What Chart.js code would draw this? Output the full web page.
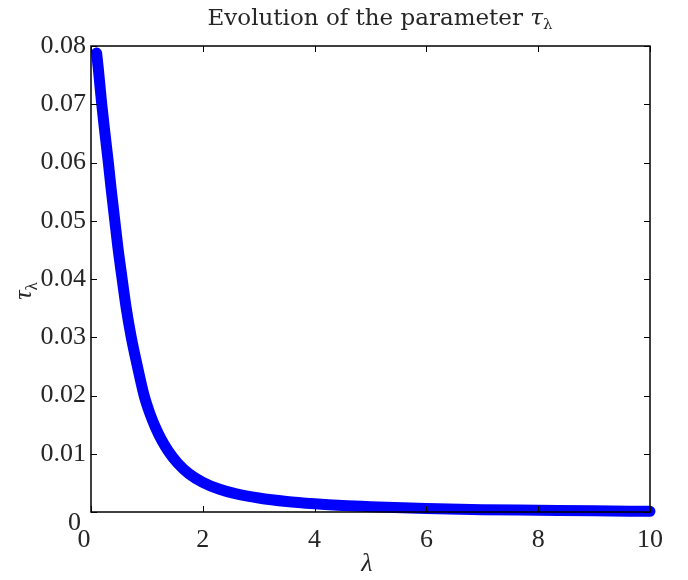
<!DOCTYPE html>
<html>
<head>
<meta charset="utf-8">
<script src="https://cdn.jsdelivr.net/npm/chart.js@4"></script>
<style>
  body { margin: 0; background: #ffffff; }
  #wrap { width: 688px; height: 580px; }
</style>
</head>
<body>
<div id="wrap"><canvas id="tauChart" width="688" height="580"></canvas></div>
<script>
// values
const lambdaValues = [0.10, 0.13, 0.16, 0.19, 0.25, 0.31, 0.36, 0.42, 0.48, 0.55, 0.63, 0.72, 0.83, 0.95, 1.05, 1.15, 1.25, 1.38, 1.55, 1.75, 2.0, 2.3, 2.6, 3.0, 3.5, 4.0, 4.5, 5.0, 6.0, 7.0, 8.0, 9.0, 10.0];
const tauValues = [0.0788, 0.0762, 0.0732, 0.0702, 0.0650, 0.0600, 0.0555, 0.0505, 0.0455, 0.0405, 0.0350, 0.0300, 0.0250, 0.0200, 0.0170, 0.0146, 0.0126, 0.0105, 0.0084, 0.0066, 0.0051, 0.0039, 0.0031, 0.0024, 0.0018, 0.0014, 0.0011, 0.0009, 0.0006, 0.0004, 0.0003, 0.0002, 0.00012];
const xTicks = [0, 2, 4, 6, 8, 10];
const yTicks = [0, 0.01, 0.02, 0.03, 0.04, 0.05, 0.06, 0.07, 0.08];

const serif = '"Liberation Serif", serif';
const titleFont = '"DejaVu Serif", serif';
const textColor = '#262626';

const points = lambdaValues.map((x, i) => ({ x: x, y: tauValues[i] }));

// box + inward ticks on all four sides, MATLAB style
const boxPlugin = {
  id: 'boxPlugin',
  afterDatasetsDraw(chart) {
    const ctx = chart.ctx;
    const a = chart.chartArea;
    const xs = chart.scales.x;
    const ys = chart.scales.y;
    const len = 6;
    ctx.save();
    ctx.strokeStyle = '#000000';
    ctx.lineWidth = 1;
    ctx.beginPath();
    xTicks.forEach(v => {
      const px = Math.round(xs.getPixelForValue(v)) + 0.5;
      ctx.moveTo(px, a.bottom); ctx.lineTo(px, a.bottom - len);
      ctx.moveTo(px, a.top); ctx.lineTo(px, a.top + len);
    });
    yTicks.forEach(v => {
      const py = Math.round(ys.getPixelForValue(v)) + 0.5;
      ctx.moveTo(a.left, py); ctx.lineTo(a.left + len, py);
      ctx.moveTo(a.right, py); ctx.lineTo(a.right - len, py);
    });
    ctx.stroke();
    ctx.lineWidth = 1.5;
    ctx.strokeRect(a.left, a.top, a.right - a.left, a.bottom - a.top);
    ctx.restore();
  }
};

// title, axis labels with the lambda subscript, and the two shifted zeros
const labelPlugin = {
  id: 'labelPlugin',
  afterDraw(chart) {
    const ctx = chart.ctx;
    const a = chart.chartArea;
    const xs = chart.scales.x;
    const ys = chart.scales.y;
    ctx.save();
    ctx.fillStyle = textColor;
    ctx.textBaseline = 'alphabetic';

    // title
    const main = 'Evolution of the parameter ';
    ctx.font = '23px ' + titleFont;
    const w1 = ctx.measureText(main).width;
    ctx.font = 'italic 23px ' + titleFont;
    const w2 = ctx.measureText('τ').width;
    ctx.font = '15px ' + titleFont;
    const w3 = ctx.measureText('λ').width;
    let tx = 380 - (w1 + w2 + w3) / 2;
    const ty = 25;
    ctx.font = '23px ' + titleFont;
    ctx.fillText(main, tx, ty);
    tx += w1;
    ctx.font = 'italic 23px ' + titleFont;
    ctx.fillText('τ', tx, ty);
    tx += w2;
    ctx.font = '15px ' + titleFont;
    ctx.fillText('λ', tx, ty + 4);

    // zero tick labels, offset like the original
    ctx.font = '26px ' + serif;
    ctx.textBaseline = 'middle';
    ctx.textAlign = 'right';
    ctx.fillText('0', a.left - 10, ys.getPixelForValue(0) + 11);
    ctx.textAlign = 'center';
    ctx.fillText('0', xs.getPixelForValue(0) - 7, a.bottom + 28);
    ctx.textBaseline = 'alphabetic';

    // x label
    ctx.font = 'italic 26px ' + serif;
    ctx.textAlign = 'center';
    ctx.fillText('λ', 367, 571);

    // y label, rotated
    ctx.translate(31, 291);
    ctx.rotate(-Math.PI / 2);
    ctx.textAlign = 'left';
    ctx.font = 'italic 26px ' + serif;
    const wt = ctx.measureText('τ').width;
    ctx.font = '17px ' + serif;
    const wl = ctx.measureText('λ').width;
    const sx = -(wt + wl) / 2;
    ctx.font = 'italic 26px ' + serif;
    ctx.fillText('τ', sx, 0);
    ctx.font = '17px ' + serif;
    ctx.fillText('λ', sx + wt, 6);
    ctx.restore();
  }
};

const ctx = document.getElementById('tauChart').getContext('2d');
const chart = new Chart(ctx, {
  type: 'scatter',
  data: {
    datasets: [{
      data: points,
      showLine: true,
      borderColor: '#0000ff',
      backgroundColor: '#0000ff',
      borderWidth: 11,
      borderCapStyle: 'round',
      borderJoinStyle: 'round',
      pointRadius: 0,
      cubicInterpolationMode: 'monotone',
      clip: false
    }]
  },
  options: {
    responsive: false,
    animation: false,
    layout: {
      padding: { left: 0, top: 46, right: 38, bottom: 0 }
    },
    plugins: {
      legend: { display: false },
      tooltip: { enabled: false },
      title: { display: false }
    },
    scales: {
      x: {
        type: 'linear',
        min: 0,
        max: 10,
        afterBuildTicks: scale => { scale.ticks = xTicks.map(v => ({ value: v })); },
        afterFit: scale => { scale.height = 580 - 512; },
        grid: { display: false, drawTicks: false },
        border: { display: false },
        ticks: {
          padding: 13,
          color: textColor,
          font: { family: serif, size: 26 },
          maxRotation: 0,
          callback: value => value === 0 ? '' : String(value)
        }
      },
      y: {
        type: 'linear',
        min: 0,
        max: 0.08,
        afterBuildTicks: scale => { scale.ticks = yTicks.map(v => ({ value: v })); },
        afterFit: scale => { scale.width = 91; },
        grid: { display: false, drawTicks: false },
        border: { display: false },
        ticks: {
          padding: 5,
          color: textColor,
          font: { family: serif, size: 26 },
          callback: value => value === 0 ? '' : value.toFixed(2)
        }
      }
    }
  },
  plugins: [boxPlugin, labelPlugin]
});
</script>
</body>
</html>
